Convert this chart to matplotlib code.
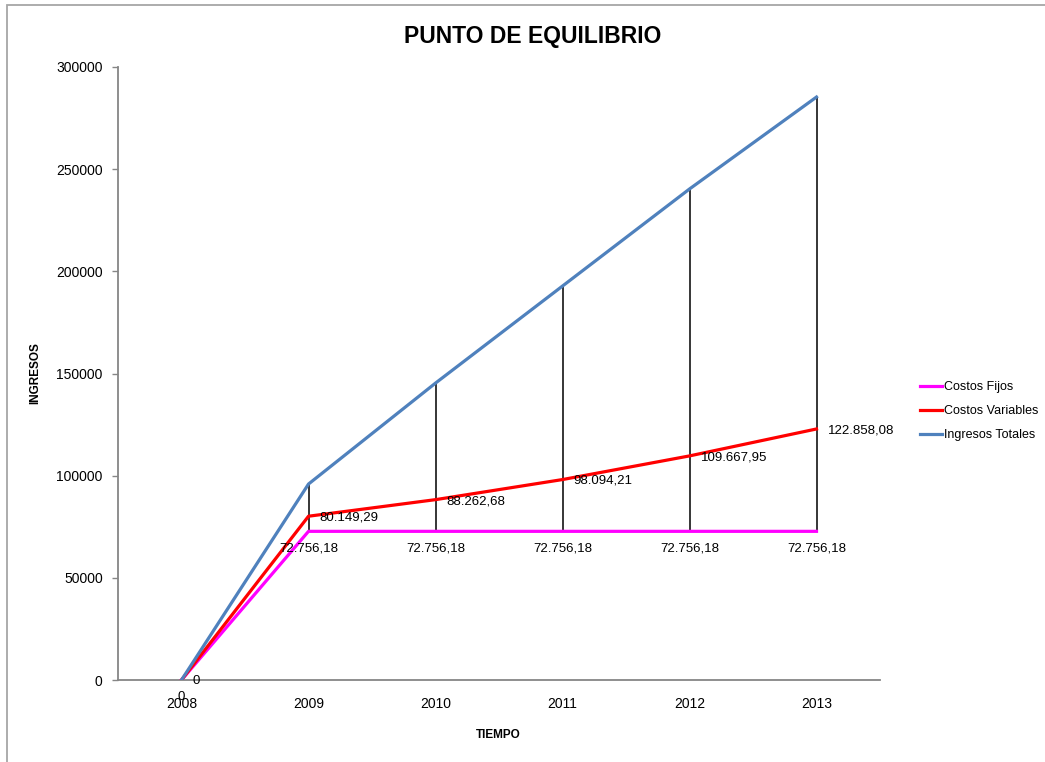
import matplotlib
matplotlib.use("Agg")
import matplotlib.pyplot as plt
from matplotlib.patches import Rectangle
import numpy as np

years = ["2008", "2009", "2010", "2011", "2012", "2013"]
costos_fijos = [0, 72756.18, 72756.18, 72756.18, 72756.18, 72756.18]
costos_variables = [0, 80149.29, 88262.68, 98094.21, 109667.95, 122858.08]
ingresos_totales = [0, 95900, 145300, 192800, 240300, 285300]
yticks = [0, 50000, 100000, 150000, 200000, 250000, 300000]

plt.rcParams['font.family'] = ['Liberation Sans', 'DejaVu Sans']

W, H = 1045, 762
fig = plt.figure(figsize=(W / 100, H / 100), dpi=100)
fig.patch.set_facecolor('white')

# chart area border (only top/left visible)
fig.patches.append(Rectangle((7 / W, -0.5), 2.0, 1.5 - 5 / H, transform=fig.transFigure,
                             fill=False, edgecolor='#a6a6a6', linewidth=1.3))

ax = fig.add_axes([118 / W, 1 - 680 / H, (880 - 118) / W, (680 - 67) / H])
x = np.arange(len(years))

# high-low lines
series = np.array([costos_fijos, costos_variables, ingresos_totales])
lo = series.min(axis=0)
hi = series.max(axis=0)
ax.vlines(x, lo, hi, colors='black', linewidth=1.1, zorder=2)

ax.plot(x, costos_fijos, color='#ff00ff', linewidth=2.3, label='Costos Fijos', zorder=3)
ax.plot(x, costos_variables, color='#ff0000', linewidth=2.3, label='Costos Variables', zorder=4)
ax.plot(x, ingresos_totales, color='#4f81bd', linewidth=2.3, label='Ingresos Totales', zorder=5)


def fmt(v):
    if v == 0:
        return "0"
    s = f"{v:,.2f}"
    return s.replace(",", "X").replace(".", ",").replace("X", ".")


for xi, v in zip(x, costos_fijos):
    ax.annotate(fmt(v), (xi, v), xytext=(0, -8), textcoords='offset points',
                ha='center', va='top', fontsize=9.5, zorder=6)
for xi, v in zip(x, costos_variables):
    ax.annotate(fmt(v), (xi, v), xytext=(8, -1), textcoords='offset points',
                ha='left', va='center', fontsize=9.5, zorder=6)

ax.set_xlim(-0.5, len(years) - 0.5)
ax.set_ylim(0, 300000)
ax.set_xticks(x)
ax.set_xticklabels(years, fontsize=10)
ax.set_yticks(yticks)
ax.set_yticklabels([str(t) for t in yticks], fontsize=10)
ax.tick_params(axis='x', length=0, pad=12)
ax.tick_params(axis='y', length=4, width=1, color='#868686', pad=7)

for s in ['top', 'right']:
    ax.spines[s].set_visible(False)
for s in ['left', 'bottom']:
    ax.spines[s].set_color('#868686')
    ax.spines[s].set_linewidth(1.3)
ax.spines['bottom'].set_zorder(1)

fig.text(533 / W, 1 - 37 / H, "PUNTO DE EQUILIBRIO", ha='center', va='center',
         fontsize=16.5, fontweight='bold')
fig.text(498 / W, 1 - 735 / H, "TIEMPO", ha='center', va='center',
         fontsize=8.5, fontweight='bold')
fig.text(35 / W, 1 - 373 / H, "INGRESOS", ha='center', va='center', rotation=90,
         fontsize=8.5, fontweight='bold')

fig.legend(loc='center left', bbox_to_anchor=(920 / W, 1 - 411 / H),
           frameon=False, fontsize=9, handlelength=1.75, handletextpad=0.2,
           labelspacing=0.95, borderpad=0, borderaxespad=0)

fig.savefig("out.png", dpi=100)
